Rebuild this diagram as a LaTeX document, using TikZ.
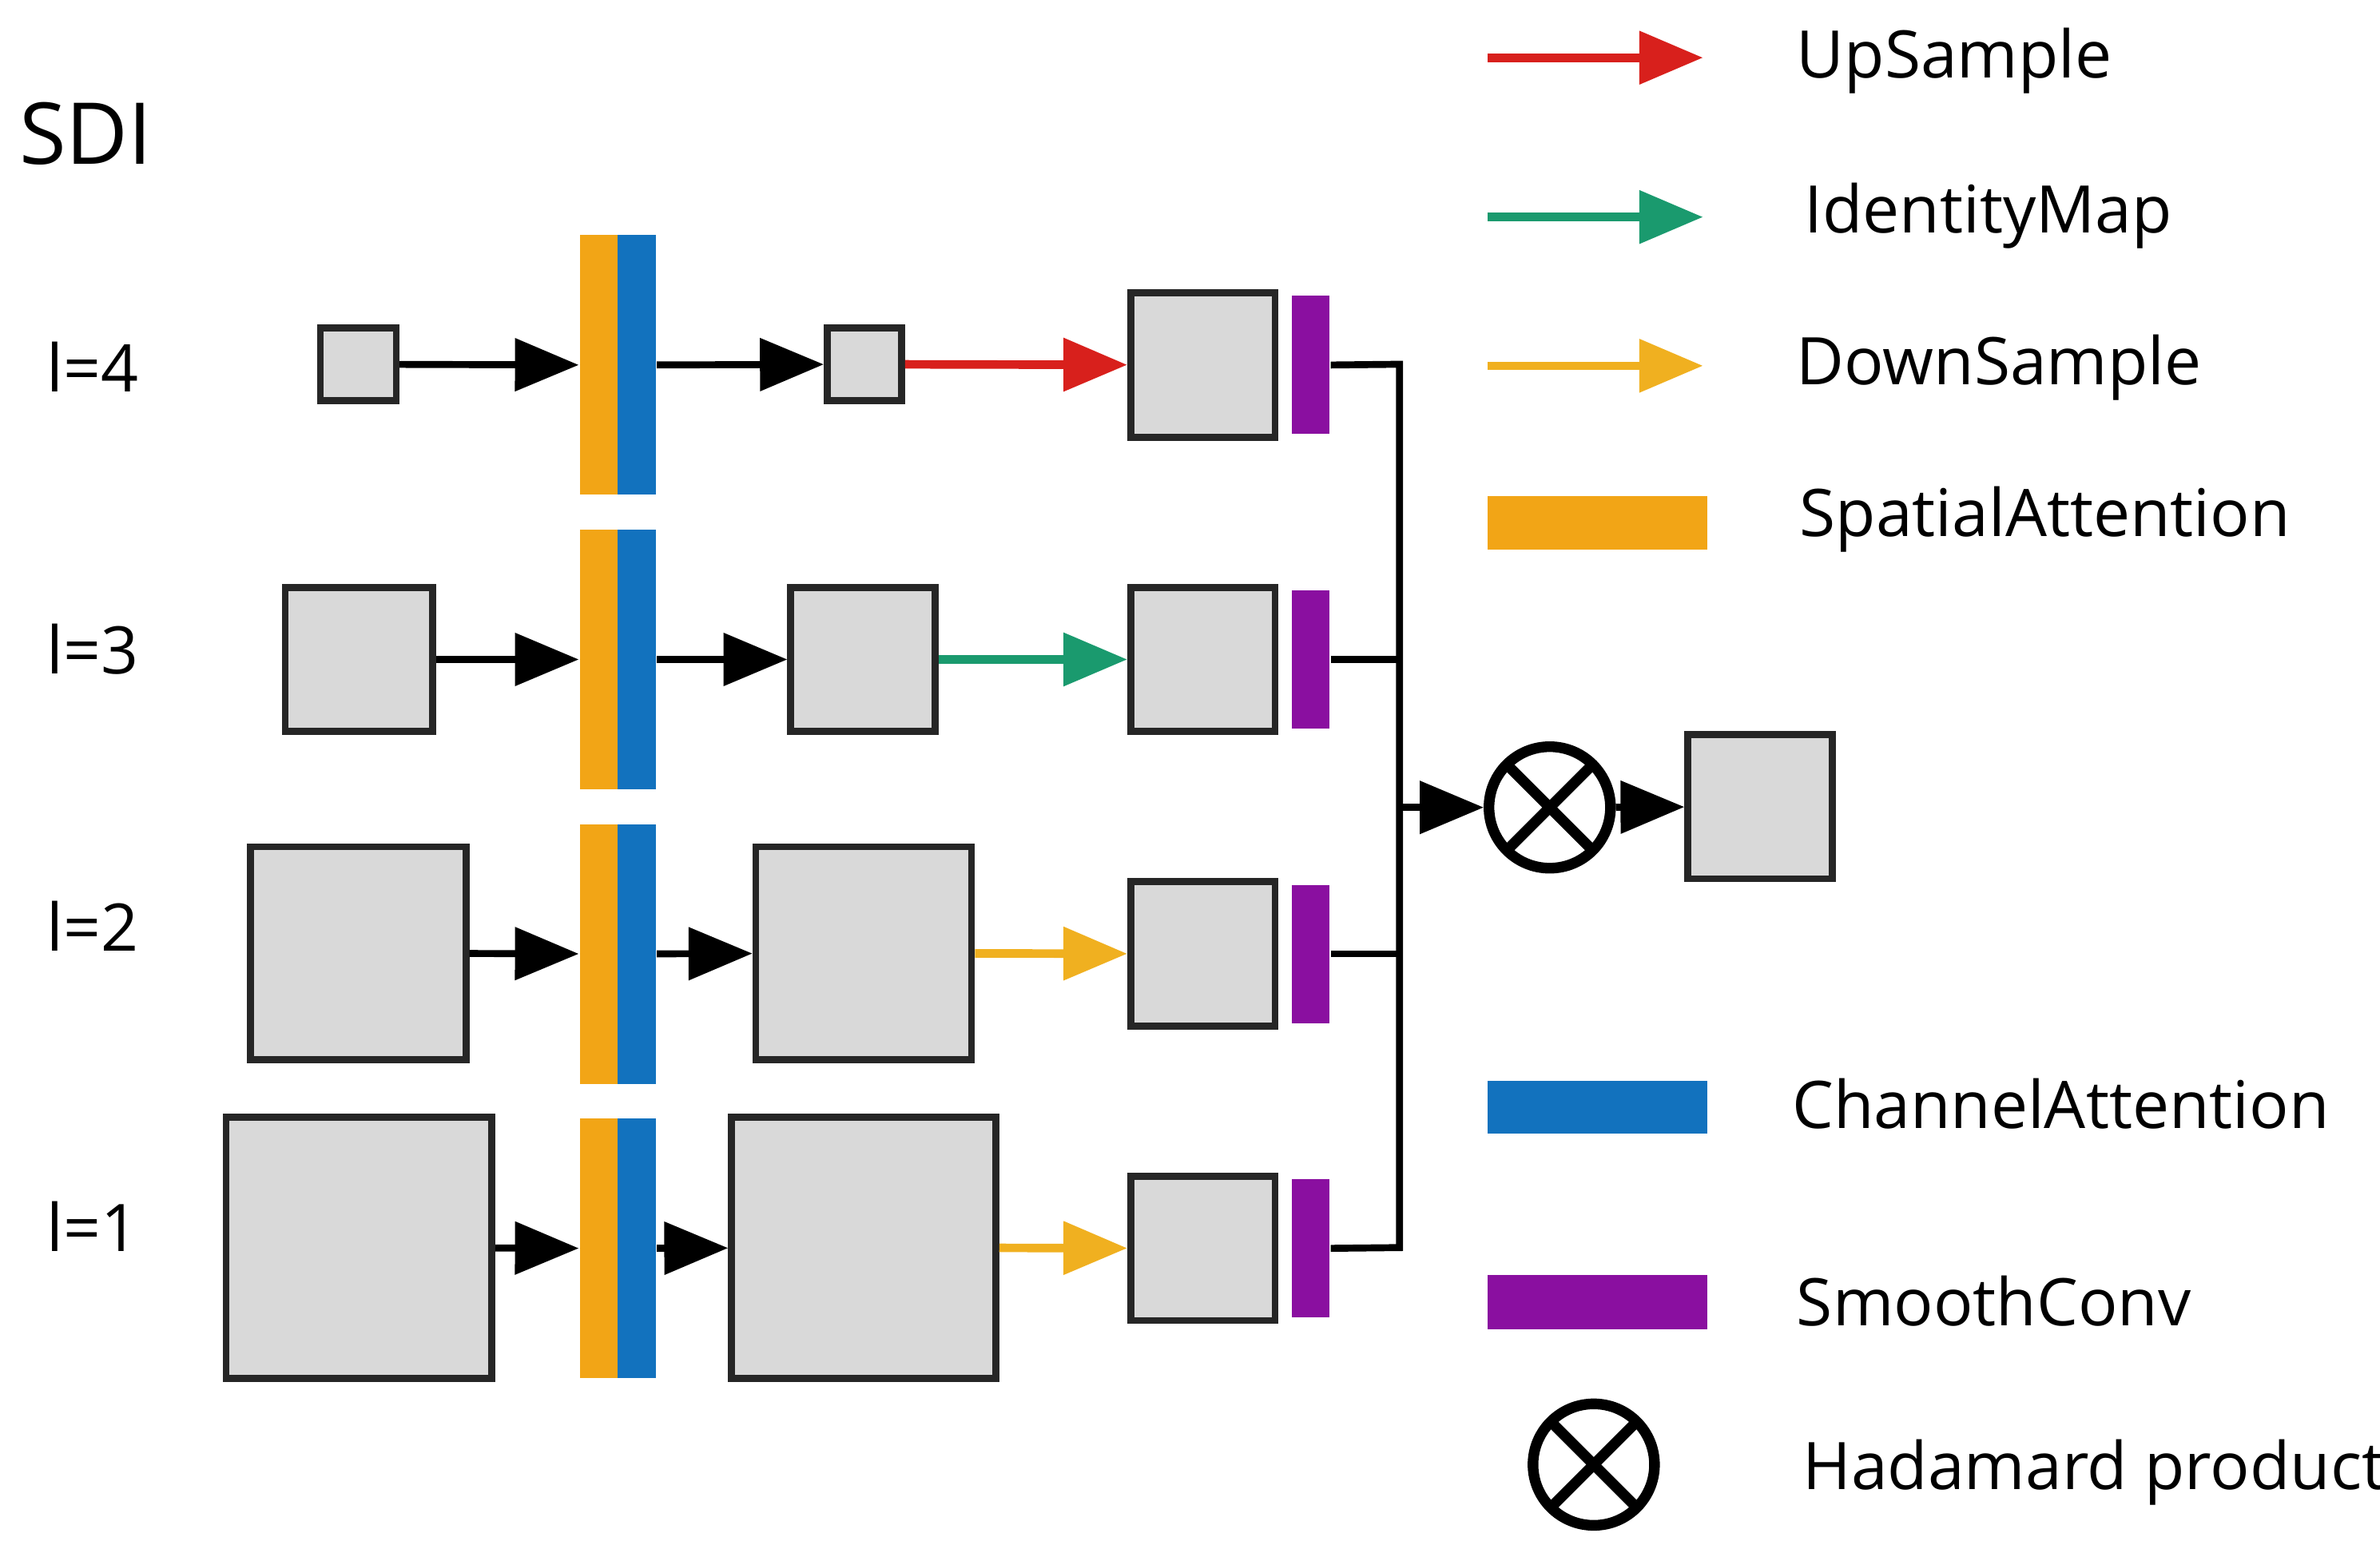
\documentclass[tikz,border=0pt]{standalone}
\usepackage{fontspec}
\setmainfont{Open Sans}
\usetikzlibrary{arrows.meta}
\begin{document}
\begin{tikzpicture}[x=0.01cm,y=-0.01cm,
 box/.style={draw=black!85,line width=1.3pt,fill=gray!30,inner sep=0pt},
 bar/.style={inner sep=0pt,minimum width=0.25cm},
 ar/.style={line width=1.3pt,-{Triangle[length=0.42cm,width=0.34cm]}},
 car/.style={line width=1.6pt,draw=#1,-{Triangle[length=0.42cm,width=0.34cm,fill=#1]}},
 lab/.style={font=\fontsize{12.3}{15}\selectfont,anchor=west,inner sep=0pt},
 cross/.style={circle,draw,line width=2pt,minimum size=0.8cm,inner sep=0pt,path picture={\draw[line width=2pt] ([xshift=0.12cm,yshift=0.12cm]path picture bounding box.south west) -- ([xshift=-0.12cm,yshift=-0.12cm]path picture bounding box.north east); \draw[line width=2pt] ([xshift=0.12cm,yshift=-0.12cm]path picture bounding box.north west) -- ([xshift=-0.12cm,yshift=0.12cm]path picture bounding box.south east);}}]
\definecolor{cOr}{HTML}{F2A516}\definecolor{cBl}{HTML}{1272BE}\definecolor{cPu}{HTML}{8A0FA0}
\definecolor{cRe}{HTML}{D8201C}\definecolor{cGr}{HTML}{1A9A6E}\definecolor{cYe}{HTML}{F0B020}
\useasboundingbox (0,0) rectangle (1568,1015);
\node[lab,font=\fontsize{16}{20}\selectfont] (sdi) at (12,88) {SDI};
\foreach \n/\y in {4/242, 3/428, 2/610, 1/808}{
 \node[lab] (l\n) at (30,\y) {l=\n};
}
% row 4
\node[box,minimum width=0.5cm,minimum height=0.48cm] (a4) at (236,240) {};
\node[bar,fill=cOr,minimum height=1.71cm] (o4) at (394.5,240.5) {};
\node[bar,fill=cBl,minimum height=1.71cm] (b4) at (419.5,240.5) {};
\node[box,minimum width=0.49cm,minimum height=0.48cm] (c4) at (569.5,240) {};
\node[box,minimum width=0.95cm,minimum height=0.95cm] (d4) at (792.5,240.5) {};
\node[bar,fill=cPu,minimum height=0.91cm] (p4) at (863.5,240.5) {};
\draw[ar] (a4) -- (o4);
\draw[ar] (b4) -- (c4);
\draw[car=cRe] (c4) -- (d4);
% row 3
\node[box,minimum width=0.97cm,minimum height=0.95cm] (a3) at (236.5,434.5) {};
\node[bar,fill=cOr,minimum height=1.71cm] (o3) at (394.5,434.5) {};
\node[bar,fill=cBl,minimum height=1.71cm] (b3) at (419.5,434.5) {};
\node[box,minimum width=0.95cm,minimum height=0.95cm] (c3) at (568.5,434.5) {};
\node[box,minimum width=0.95cm,minimum height=0.95cm] (d3) at (792.5,434.5) {};
\node[bar,fill=cPu,minimum height=0.91cm] (p3) at (863.5,434.5) {};
\draw[ar] (a3) -- (o3);
\draw[ar] (b3) -- (c3);
\draw[car=cGr] (c3) -- (d3);
% row 2
\node[box,minimum width=1.42cm,minimum height=1.4cm] (a2) at (236,628) {};
\node[bar,fill=cOr,minimum height=1.71cm] (o2) at (394.5,628.5) {};
\node[bar,fill=cBl,minimum height=1.71cm] (b2) at (419.5,628.5) {};
\node[box,minimum width=1.42cm,minimum height=1.4cm] (c2) at (569,628) {};
\node[box,minimum width=0.95cm,minimum height=0.95cm] (d2) at (792.5,628.5) {};
\node[bar,fill=cPu,minimum height=0.91cm] (p2) at (863.5,628.5) {};
\draw[ar] (a2) -- (o2);
\draw[ar] (b2) -- (c2);
\draw[car=cYe] (c2) -- (d2);
% row 1
\node[box,minimum width=1.75cm,minimum height=1.72cm] (a1) at (236.5,822) {};
\node[bar,fill=cOr,minimum height=1.71cm] (o1) at (394.5,822.5) {};
\node[bar,fill=cBl,minimum height=1.71cm] (b1) at (419.5,822.5) {};
\node[box,minimum width=1.74cm,minimum height=1.72cm] (c1) at (569,822) {};
\node[box,minimum width=0.95cm,minimum height=0.95cm] (d1) at (792.5,822.5) {};
\node[bar,fill=cPu,minimum height=0.91cm] (p1) at (863.5,822.5) {};
\draw[ar] (a1) -- (o1);
\draw[ar] (b1) -- (c1);
\draw[car=cYe] (c1) -- (d1);
% merge
\coordinate (j4) at (922,240); \coordinate (j1) at (922,822); \coordinate (jm) at (922,532);
\draw[line width=1.3pt] (p4.east) -- (j4) -- (j1) -- (p1.east);
\draw[line width=1.3pt] (p3.east) -- (922,434.5);
\draw[line width=1.3pt] (p2.east) -- (922,628.5);
\node[cross] (h) at (1021,532) {};
\node[box,minimum width=0.95cm,minimum height=0.95cm] (out) at (1159.5,531.5) {};
\draw[ar] (jm) -- (h);
\draw[ar] (h) -- (out);
% legend
\coordinate (r1) at (980,38); \coordinate (r2) at (1122,38);
\draw[car=cRe] (r1) -- (r2);
\node[lab] (t1) at (1183,40) {UpSample};
\coordinate (g1) at (980,143); \coordinate (g2) at (1122,143);
\draw[car=cGr] (g1) -- (g2);
\node[lab] (t2) at (1188,142) {IdentityMap};
\coordinate (y1) at (980,241); \coordinate (y2) at (1122,241);
\draw[car=cYe] (y1) -- (y2);
\node[lab] (t3) at (1183,242) {DownSample};
\node[fill=cOr,minimum width=1.45cm,minimum height=0.35cm,inner sep=0pt] (lo) at (1052.5,344.5) {};
\node[lab] (t4) at (1185,342) {SpatialAttention};
\node[fill=cBl,minimum width=1.45cm,minimum height=0.35cm,inner sep=0pt] (lb) at (1052.5,729.5) {};
\node[lab] (t5) at (1180,727) {ChannelAttention};
\node[fill=cPu,minimum width=1.45cm,minimum height=0.36cm,inner sep=0pt] (lp) at (1052.5,858) {};
\node[lab] (t6) at (1183,857) {SmoothConv};
\node[cross] (lh) at (1050,965) {};
\node[lab] (t7) at (1187,970) {Hadamard product};
\end{tikzpicture}
\end{document}
